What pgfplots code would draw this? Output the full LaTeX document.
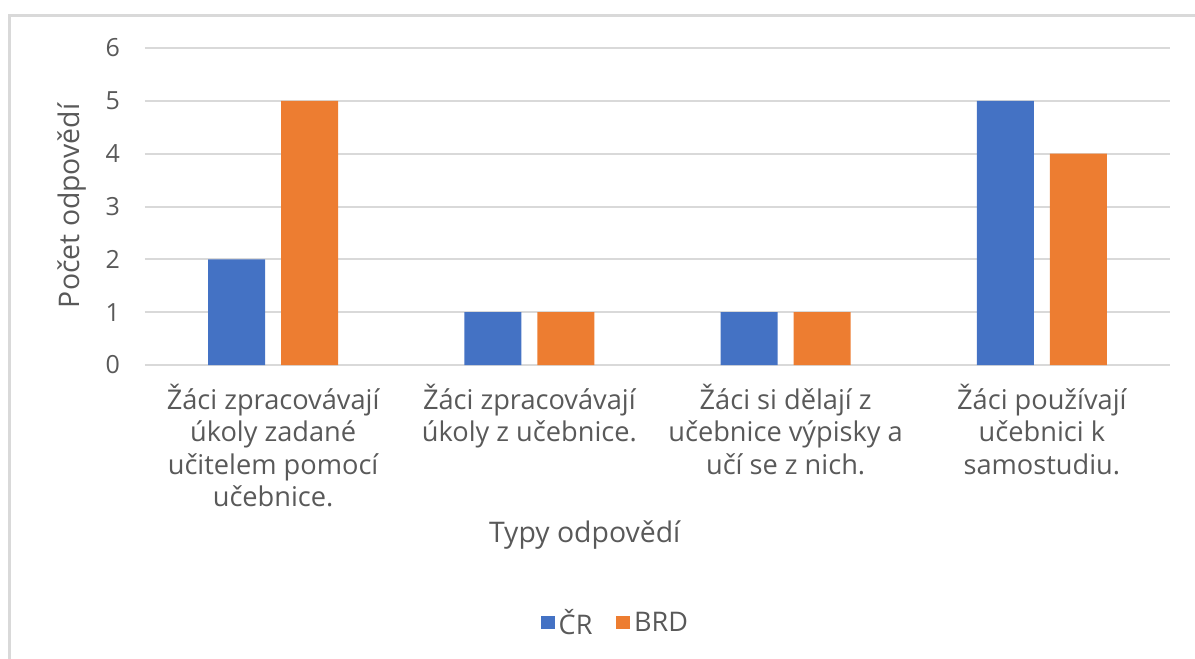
\documentclass[border=0pt]{standalone}
\usepackage{pgfplots}
\pgfplotsset{compat=1.18}
\usepackage{fontspec}
\setmainfont{Open Sans}
\definecolor{cblue}{HTML}{4472C4}
\definecolor{corange}{HTML}{ED7D31}
\definecolor{ctext}{HTML}{595959}
\definecolor{cgrid}{HTML}{D9D9D9}
\begin{document}
\begin{tikzpicture}
\useasboundingbox (0pt,0pt) rectangle (597.5pt,329.5pt);
\draw[cgrid, line width=1.5pt] (4.5pt,-10pt) -- (4.5pt,321.5pt) -- (610pt,321.5pt);
\begin{axis}[
  at={(72.5pt,147pt)}, anchor=south west,
  scale only axis, width=512.5pt, height=158.5pt,
  ybar=8pt, bar width=28.5pt,
  xmin=-0.5, xmax=3.5, ymin=0, ymax=6,
  ytick={0,1,2,3,4,5,6},
  xtick={0,1,2,3},
  xticklabels={{Žáci zpracovávají\\úkoly zadané\\učitelem pomocí\\učebnice.},
               {Žáci zpracovávají\\úkoly z učebnice.},
               {Žáci si dělají z\\učebnice výpisky a\\učí se z nich.},
               {Žáci používají\\učebnici k\\samostudiu.}},
  xticklabel style={align=center, anchor=north, yshift=-6pt, font=\fontsize{13.6}{16.2}\selectfont, text=ctext},
  yticklabel style={font=\fontsize{12.5}{14}\selectfont, text=ctext, xshift=-9pt},
  /pgf/number format/assume math mode=true,
  major tick length=0pt,
  axis line style={draw=none},
  ymajorgrids, grid style={cgrid, line width=1pt},
  xlabel={Typy odpovědí},
  xlabel style={at={(rel axis cs:0.429,-0.536)}, anchor=center, font=\fontsize{14.2}{16}\selectfont, text=ctext},
  ylabel={Počet odpovědí},
  ylabel style={at={(rel axis cs:-0.071,0.502)}, anchor=center, rotate=0, font=\fontsize{14.2}{16}\selectfont, text=ctext},
  legend style={at={(rel axis cs:0.46,-0.814)}, anchor=center, draw=none, legend columns=2,
     font=\fontsize{13.5}{15}\selectfont, text=ctext,
     /tikz/every even column/.append style={column sep=10pt}},
  legend image code/.code={\fill[#1] (0cm,-0.11cm) rectangle (0.24cm,0.13cm);},
]
\addplot[fill=cblue, draw=none] coordinates {(0,2) (1,1) (2,1) (3,5)};
\addplot[fill=corange, draw=none] coordinates {(0,5) (1,1) (2,1) (3,4)};
\legend{ČR, BRD}
\end{axis}
\end{tikzpicture}
\end{document}
